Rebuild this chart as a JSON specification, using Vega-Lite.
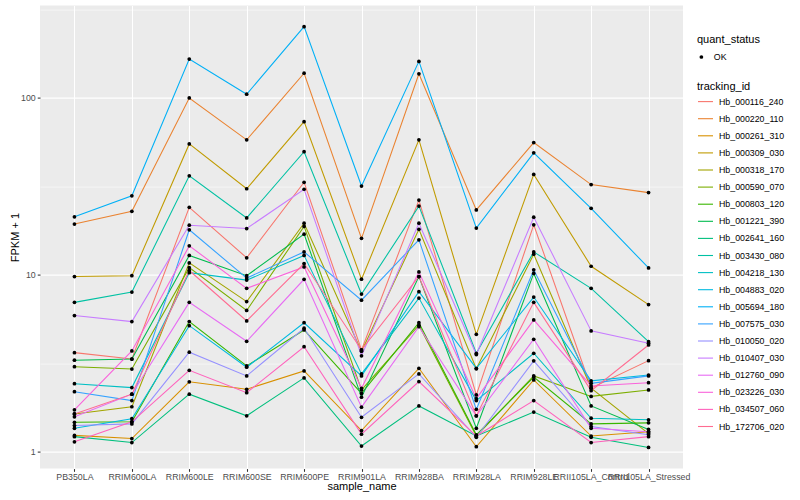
{
  "$schema": "https://vega.github.io/schema/vega-lite/v6.json",
  "width": 643,
  "height": 463,
  "autosize": {"type": "none"},
  "padding": {"left": 40, "top": 5.6, "right": 117, "bottom": 31.4},
  "background": "white",
  "config": {
    "font": "Liberation Sans",
    "view": {"fill": "#EBEBEB", "stroke": null},
    "axis": {
      "labelFont": "Liberation Sans",
      "titleFont": "Liberation Sans",
      "labelFontSize": 8.8,
      "labelColor": "#4D4D4D",
      "titleFontSize": 11,
      "titleFontWeight": "normal",
      "titleColor": "black",
      "domain": false,
      "tickColor": "#333333",
      "tickSize": 2.75,
      "tickWidth": 1.07,
      "gridColor": "white",
      "gridOpacity": 1
    },
    "legend": {
      "titleFont": "Liberation Sans",
      "labelFont": "Liberation Sans",
      "titleFontSize": 11,
      "titleFontWeight": "normal",
      "titleColor": "black",
      "labelFontSize": 8.8,
      "labelColor": "black"
    }
  },
  "data": {"values": [
    {"tracking_id":"Hb_000116_240","sample_name":"PB350LA","fpkm":3.64,"quant_status":"OK"},
    {"tracking_id":"Hb_000116_240","sample_name":"RRIM600LA","fpkm":3.35,"quant_status":"OK"},
    {"tracking_id":"Hb_000116_240","sample_name":"RRIM600LE","fpkm":24.1,"quant_status":"OK"},
    {"tracking_id":"Hb_000116_240","sample_name":"RRIM600SE","fpkm":12.5,"quant_status":"OK"},
    {"tracking_id":"Hb_000116_240","sample_name":"RRIM600PE","fpkm":33.4,"quant_status":"OK"},
    {"tracking_id":"Hb_000116_240","sample_name":"RRIM901LA","fpkm":3.77,"quant_status":"OK"},
    {"tracking_id":"Hb_000116_240","sample_name":"RRIM928BA","fpkm":26.5,"quant_status":"OK"},
    {"tracking_id":"Hb_000116_240","sample_name":"RRIM928LA","fpkm":2.1,"quant_status":"OK"},
    {"tracking_id":"Hb_000116_240","sample_name":"RRIM928LE","fpkm":19.2,"quant_status":"OK"},
    {"tracking_id":"Hb_000116_240","sample_name":"RRII105LA_Control","fpkm":2.3,"quant_status":"OK"},
    {"tracking_id":"Hb_000116_240","sample_name":"RRII105LA_Stressed","fpkm":3.28,"quant_status":"OK"},

    {"tracking_id":"Hb_000220_110","sample_name":"PB350LA","fpkm":19.4,"quant_status":"OK"},
    {"tracking_id":"Hb_000220_110","sample_name":"RRIM600LA","fpkm":22.9,"quant_status":"OK"},
    {"tracking_id":"Hb_000220_110","sample_name":"RRIM600LE","fpkm":100,"quant_status":"OK"},
    {"tracking_id":"Hb_000220_110","sample_name":"RRIM600SE","fpkm":58,"quant_status":"OK"},
    {"tracking_id":"Hb_000220_110","sample_name":"RRIM600PE","fpkm":138,"quant_status":"OK"},
    {"tracking_id":"Hb_000220_110","sample_name":"RRIM901LA","fpkm":16.1,"quant_status":"OK"},
    {"tracking_id":"Hb_000220_110","sample_name":"RRIM928BA","fpkm":137,"quant_status":"OK"},
    {"tracking_id":"Hb_000220_110","sample_name":"RRIM928LA","fpkm":23.3,"quant_status":"OK"},
    {"tracking_id":"Hb_000220_110","sample_name":"RRIM928LE","fpkm":56,"quant_status":"OK"},
    {"tracking_id":"Hb_000220_110","sample_name":"RRII105LA_Control","fpkm":32.4,"quant_status":"OK"},
    {"tracking_id":"Hb_000220_110","sample_name":"RRII105LA_Stressed","fpkm":29.2,"quant_status":"OK"},

    {"tracking_id":"Hb_000261_310","sample_name":"PB350LA","fpkm":1.24,"quant_status":"OK"},
    {"tracking_id":"Hb_000261_310","sample_name":"RRIM600LA","fpkm":1.19,"quant_status":"OK"},
    {"tracking_id":"Hb_000261_310","sample_name":"RRIM600LE","fpkm":2.49,"quant_status":"OK"},
    {"tracking_id":"Hb_000261_310","sample_name":"RRIM600SE","fpkm":2.26,"quant_status":"OK"},
    {"tracking_id":"Hb_000261_310","sample_name":"RRIM600PE","fpkm":2.87,"quant_status":"OK"},
    {"tracking_id":"Hb_000261_310","sample_name":"RRIM901LA","fpkm":1.32,"quant_status":"OK"},
    {"tracking_id":"Hb_000261_310","sample_name":"RRIM928BA","fpkm":2.97,"quant_status":"OK"},
    {"tracking_id":"Hb_000261_310","sample_name":"RRIM928LA","fpkm":1.07,"quant_status":"OK"},
    {"tracking_id":"Hb_000261_310","sample_name":"RRIM928LE","fpkm":2.55,"quant_status":"OK"},
    {"tracking_id":"Hb_000261_310","sample_name":"RRII105LA_Control","fpkm":1.23,"quant_status":"OK"},
    {"tracking_id":"Hb_000261_310","sample_name":"RRII105LA_Stressed","fpkm":1.3,"quant_status":"OK"},

    {"tracking_id":"Hb_000309_030","sample_name":"PB350LA","fpkm":9.8,"quant_status":"OK"},
    {"tracking_id":"Hb_000309_030","sample_name":"RRIM600LA","fpkm":9.9,"quant_status":"OK"},
    {"tracking_id":"Hb_000309_030","sample_name":"RRIM600LE","fpkm":55,"quant_status":"OK"},
    {"tracking_id":"Hb_000309_030","sample_name":"RRIM600SE","fpkm":30.7,"quant_status":"OK"},
    {"tracking_id":"Hb_000309_030","sample_name":"RRIM600PE","fpkm":73.5,"quant_status":"OK"},
    {"tracking_id":"Hb_000309_030","sample_name":"RRIM901LA","fpkm":9.46,"quant_status":"OK"},
    {"tracking_id":"Hb_000309_030","sample_name":"RRIM928BA","fpkm":58,"quant_status":"OK"},
    {"tracking_id":"Hb_000309_030","sample_name":"RRIM928LA","fpkm":4.62,"quant_status":"OK"},
    {"tracking_id":"Hb_000309_030","sample_name":"RRIM928LE","fpkm":37,"quant_status":"OK"},
    {"tracking_id":"Hb_000309_030","sample_name":"RRII105LA_Control","fpkm":11.2,"quant_status":"OK"},
    {"tracking_id":"Hb_000309_030","sample_name":"RRII105LA_Stressed","fpkm":6.8,"quant_status":"OK"},

    {"tracking_id":"Hb_000318_170","sample_name":"PB350LA","fpkm":1.64,"quant_status":"OK"},
    {"tracking_id":"Hb_000318_170","sample_name":"RRIM600LA","fpkm":1.8,"quant_status":"OK"},
    {"tracking_id":"Hb_000318_170","sample_name":"RRIM600LE","fpkm":11.7,"quant_status":"OK"},
    {"tracking_id":"Hb_000318_170","sample_name":"RRIM600SE","fpkm":7.07,"quant_status":"OK"},
    {"tracking_id":"Hb_000318_170","sample_name":"RRIM600PE","fpkm":19.6,"quant_status":"OK"},
    {"tracking_id":"Hb_000318_170","sample_name":"RRIM901LA","fpkm":3.7,"quant_status":"OK"},
    {"tracking_id":"Hb_000318_170","sample_name":"RRIM928BA","fpkm":18.1,"quant_status":"OK"},
    {"tracking_id":"Hb_000318_170","sample_name":"RRIM928LA","fpkm":2.95,"quant_status":"OK"},
    {"tracking_id":"Hb_000318_170","sample_name":"RRIM928LE","fpkm":13.1,"quant_status":"OK"},
    {"tracking_id":"Hb_000318_170","sample_name":"RRII105LA_Control","fpkm":2.29,"quant_status":"OK"},
    {"tracking_id":"Hb_000318_170","sample_name":"RRII105LA_Stressed","fpkm":1.27,"quant_status":"OK"},

    {"tracking_id":"Hb_000590_070","sample_name":"PB350LA","fpkm":3.03,"quant_status":"OK"},
    {"tracking_id":"Hb_000590_070","sample_name":"RRIM600LA","fpkm":2.94,"quant_status":"OK"},
    {"tracking_id":"Hb_000590_070","sample_name":"RRIM600LE","fpkm":11.0,"quant_status":"OK"},
    {"tracking_id":"Hb_000590_070","sample_name":"RRIM600SE","fpkm":6.3,"quant_status":"OK"},
    {"tracking_id":"Hb_000590_070","sample_name":"RRIM600PE","fpkm":18.8,"quant_status":"OK"},
    {"tracking_id":"Hb_000590_070","sample_name":"RRIM901LA","fpkm":2.24,"quant_status":"OK"},
    {"tracking_id":"Hb_000590_070","sample_name":"RRIM928BA","fpkm":5.2,"quant_status":"OK"},
    {"tracking_id":"Hb_000590_070","sample_name":"RRIM928LA","fpkm":1.23,"quant_status":"OK"},
    {"tracking_id":"Hb_000590_070","sample_name":"RRIM928LE","fpkm":2.69,"quant_status":"OK"},
    {"tracking_id":"Hb_000590_070","sample_name":"RRII105LA_Control","fpkm":2.06,"quant_status":"OK"},
    {"tracking_id":"Hb_000590_070","sample_name":"RRII105LA_Stressed","fpkm":2.24,"quant_status":"OK"},

    {"tracking_id":"Hb_000803_120","sample_name":"PB350LA","fpkm":1.47,"quant_status":"OK"},
    {"tracking_id":"Hb_000803_120","sample_name":"RRIM600LA","fpkm":1.48,"quant_status":"OK"},
    {"tracking_id":"Hb_000803_120","sample_name":"RRIM600LE","fpkm":5.45,"quant_status":"OK"},
    {"tracking_id":"Hb_000803_120","sample_name":"RRIM600SE","fpkm":3.06,"quant_status":"OK"},
    {"tracking_id":"Hb_000803_120","sample_name":"RRIM600PE","fpkm":4.89,"quant_status":"OK"},
    {"tracking_id":"Hb_000803_120","sample_name":"RRIM901LA","fpkm":2.14,"quant_status":"OK"},
    {"tracking_id":"Hb_000803_120","sample_name":"RRIM928BA","fpkm":5.37,"quant_status":"OK"},
    {"tracking_id":"Hb_000803_120","sample_name":"RRIM928LA","fpkm":1.25,"quant_status":"OK"},
    {"tracking_id":"Hb_000803_120","sample_name":"RRIM928LE","fpkm":2.65,"quant_status":"OK"},
    {"tracking_id":"Hb_000803_120","sample_name":"RRII105LA_Control","fpkm":1.44,"quant_status":"OK"},
    {"tracking_id":"Hb_000803_120","sample_name":"RRII105LA_Stressed","fpkm":1.46,"quant_status":"OK"},

    {"tracking_id":"Hb_001221_390","sample_name":"PB350LA","fpkm":3.3,"quant_status":"OK"},
    {"tracking_id":"Hb_001221_390","sample_name":"RRIM600LA","fpkm":3.35,"quant_status":"OK"},
    {"tracking_id":"Hb_001221_390","sample_name":"RRIM600LE","fpkm":12.9,"quant_status":"OK"},
    {"tracking_id":"Hb_001221_390","sample_name":"RRIM600SE","fpkm":9.9,"quant_status":"OK"},
    {"tracking_id":"Hb_001221_390","sample_name":"RRIM600PE","fpkm":17.0,"quant_status":"OK"},
    {"tracking_id":"Hb_001221_390","sample_name":"RRIM901LA","fpkm":2.04,"quant_status":"OK"},
    {"tracking_id":"Hb_001221_390","sample_name":"RRIM928BA","fpkm":9.8,"quant_status":"OK"},
    {"tracking_id":"Hb_001221_390","sample_name":"RRIM928LA","fpkm":1.36,"quant_status":"OK"},
    {"tracking_id":"Hb_001221_390","sample_name":"RRIM928LE","fpkm":10.2,"quant_status":"OK"},
    {"tracking_id":"Hb_001221_390","sample_name":"RRII105LA_Control","fpkm":1.82,"quant_status":"OK"},
    {"tracking_id":"Hb_001221_390","sample_name":"RRII105LA_Stressed","fpkm":1.34,"quant_status":"OK"},

    {"tracking_id":"Hb_002641_160","sample_name":"PB350LA","fpkm":1.22,"quant_status":"OK"},
    {"tracking_id":"Hb_002641_160","sample_name":"RRIM600LA","fpkm":1.13,"quant_status":"OK"},
    {"tracking_id":"Hb_002641_160","sample_name":"RRIM600LE","fpkm":2.12,"quant_status":"OK"},
    {"tracking_id":"Hb_002641_160","sample_name":"RRIM600SE","fpkm":1.6,"quant_status":"OK"},
    {"tracking_id":"Hb_002641_160","sample_name":"RRIM600PE","fpkm":2.62,"quant_status":"OK"},
    {"tracking_id":"Hb_002641_160","sample_name":"RRIM901LA","fpkm":1.08,"quant_status":"OK"},
    {"tracking_id":"Hb_002641_160","sample_name":"RRIM928BA","fpkm":1.82,"quant_status":"OK"},
    {"tracking_id":"Hb_002641_160","sample_name":"RRIM928LA","fpkm":1.23,"quant_status":"OK"},
    {"tracking_id":"Hb_002641_160","sample_name":"RRIM928LE","fpkm":1.68,"quant_status":"OK"},
    {"tracking_id":"Hb_002641_160","sample_name":"RRII105LA_Control","fpkm":1.21,"quant_status":"OK"},
    {"tracking_id":"Hb_002641_160","sample_name":"RRII105LA_Stressed","fpkm":1.06,"quant_status":"OK"},

    {"tracking_id":"Hb_003430_080","sample_name":"PB350LA","fpkm":7.0,"quant_status":"OK"},
    {"tracking_id":"Hb_003430_080","sample_name":"RRIM600LA","fpkm":8.0,"quant_status":"OK"},
    {"tracking_id":"Hb_003430_080","sample_name":"RRIM600LE","fpkm":36.3,"quant_status":"OK"},
    {"tracking_id":"Hb_003430_080","sample_name":"RRIM600SE","fpkm":21,"quant_status":"OK"},
    {"tracking_id":"Hb_003430_080","sample_name":"RRIM600PE","fpkm":49.7,"quant_status":"OK"},
    {"tracking_id":"Hb_003430_080","sample_name":"RRIM901LA","fpkm":7.8,"quant_status":"OK"},
    {"tracking_id":"Hb_003430_080","sample_name":"RRIM928BA","fpkm":24.5,"quant_status":"OK"},
    {"tracking_id":"Hb_003430_080","sample_name":"RRIM928LA","fpkm":3.61,"quant_status":"OK"},
    {"tracking_id":"Hb_003430_080","sample_name":"RRIM928LE","fpkm":13.5,"quant_status":"OK"},
    {"tracking_id":"Hb_003430_080","sample_name":"RRII105LA_Control","fpkm":8.4,"quant_status":"OK"},
    {"tracking_id":"Hb_003430_080","sample_name":"RRII105LA_Stressed","fpkm":4.2,"quant_status":"OK"},

    {"tracking_id":"Hb_004218_130","sample_name":"PB350LA","fpkm":2.43,"quant_status":"OK"},
    {"tracking_id":"Hb_004218_130","sample_name":"RRIM600LA","fpkm":2.31,"quant_status":"OK"},
    {"tracking_id":"Hb_004218_130","sample_name":"RRIM600LE","fpkm":10.3,"quant_status":"OK"},
    {"tracking_id":"Hb_004218_130","sample_name":"RRIM600SE","fpkm":9.35,"quant_status":"OK"},
    {"tracking_id":"Hb_004218_130","sample_name":"RRIM600PE","fpkm":12.9,"quant_status":"OK"},
    {"tracking_id":"Hb_004218_130","sample_name":"RRIM901LA","fpkm":2.76,"quant_status":"OK"},
    {"tracking_id":"Hb_004218_130","sample_name":"RRIM928BA","fpkm":7.4,"quant_status":"OK"},
    {"tracking_id":"Hb_004218_130","sample_name":"RRIM928LA","fpkm":1.95,"quant_status":"OK"},
    {"tracking_id":"Hb_004218_130","sample_name":"RRIM928LE","fpkm":3.61,"quant_status":"OK"},
    {"tracking_id":"Hb_004218_130","sample_name":"RRII105LA_Control","fpkm":1.55,"quant_status":"OK"},
    {"tracking_id":"Hb_004218_130","sample_name":"RRII105LA_Stressed","fpkm":1.52,"quant_status":"OK"},

    {"tracking_id":"Hb_004883_020","sample_name":"PB350LA","fpkm":1.36,"quant_status":"OK"},
    {"tracking_id":"Hb_004883_020","sample_name":"RRIM600LA","fpkm":1.54,"quant_status":"OK"},
    {"tracking_id":"Hb_004883_020","sample_name":"RRIM600LE","fpkm":5.17,"quant_status":"OK"},
    {"tracking_id":"Hb_004883_020","sample_name":"RRIM600SE","fpkm":3.01,"quant_status":"OK"},
    {"tracking_id":"Hb_004883_020","sample_name":"RRIM600PE","fpkm":5.37,"quant_status":"OK"},
    {"tracking_id":"Hb_004883_020","sample_name":"RRIM901LA","fpkm":2.69,"quant_status":"OK"},
    {"tracking_id":"Hb_004883_020","sample_name":"RRIM928BA","fpkm":8.04,"quant_status":"OK"},
    {"tracking_id":"Hb_004883_020","sample_name":"RRIM928LA","fpkm":2.97,"quant_status":"OK"},
    {"tracking_id":"Hb_004883_020","sample_name":"RRIM928LE","fpkm":7.5,"quant_status":"OK"},
    {"tracking_id":"Hb_004883_020","sample_name":"RRII105LA_Control","fpkm":2.52,"quant_status":"OK"},
    {"tracking_id":"Hb_004883_020","sample_name":"RRII105LA_Stressed","fpkm":2.72,"quant_status":"OK"},

    {"tracking_id":"Hb_005694_180","sample_name":"PB350LA","fpkm":21.3,"quant_status":"OK"},
    {"tracking_id":"Hb_005694_180","sample_name":"RRIM600LA","fpkm":28,"quant_status":"OK"},
    {"tracking_id":"Hb_005694_180","sample_name":"RRIM600LE","fpkm":166,"quant_status":"OK"},
    {"tracking_id":"Hb_005694_180","sample_name":"RRIM600SE","fpkm":105,"quant_status":"OK"},
    {"tracking_id":"Hb_005694_180","sample_name":"RRIM600PE","fpkm":253,"quant_status":"OK"},
    {"tracking_id":"Hb_005694_180","sample_name":"RRIM901LA","fpkm":31.8,"quant_status":"OK"},
    {"tracking_id":"Hb_005694_180","sample_name":"RRIM928BA","fpkm":161,"quant_status":"OK"},
    {"tracking_id":"Hb_005694_180","sample_name":"RRIM928LA","fpkm":18.4,"quant_status":"OK"},
    {"tracking_id":"Hb_005694_180","sample_name":"RRIM928LE","fpkm":49,"quant_status":"OK"},
    {"tracking_id":"Hb_005694_180","sample_name":"RRII105LA_Control","fpkm":23.8,"quant_status":"OK"},
    {"tracking_id":"Hb_005694_180","sample_name":"RRII105LA_Stressed","fpkm":10.95,"quant_status":"OK"},

    {"tracking_id":"Hb_007575_030","sample_name":"PB350LA","fpkm":2.19,"quant_status":"OK"},
    {"tracking_id":"Hb_007575_030","sample_name":"RRIM600LA","fpkm":1.95,"quant_status":"OK"},
    {"tracking_id":"Hb_007575_030","sample_name":"RRIM600LE","fpkm":18,"quant_status":"OK"},
    {"tracking_id":"Hb_007575_030","sample_name":"RRIM600SE","fpkm":9.6,"quant_status":"OK"},
    {"tracking_id":"Hb_007575_030","sample_name":"RRIM600PE","fpkm":13.5,"quant_status":"OK"},
    {"tracking_id":"Hb_007575_030","sample_name":"RRIM901LA","fpkm":7.2,"quant_status":"OK"},
    {"tracking_id":"Hb_007575_030","sample_name":"RRIM928BA","fpkm":15.8,"quant_status":"OK"},
    {"tracking_id":"Hb_007575_030","sample_name":"RRIM928LA","fpkm":1.74,"quant_status":"OK"},
    {"tracking_id":"Hb_007575_030","sample_name":"RRIM928LE","fpkm":10.7,"quant_status":"OK"},
    {"tracking_id":"Hb_007575_030","sample_name":"RRII105LA_Control","fpkm":2.44,"quant_status":"OK"},
    {"tracking_id":"Hb_007575_030","sample_name":"RRII105LA_Stressed","fpkm":2.69,"quant_status":"OK"},

    {"tracking_id":"Hb_010050_020","sample_name":"PB350LA","fpkm":1.41,"quant_status":"OK"},
    {"tracking_id":"Hb_010050_020","sample_name":"RRIM600LA","fpkm":1.44,"quant_status":"OK"},
    {"tracking_id":"Hb_010050_020","sample_name":"RRIM600LE","fpkm":3.66,"quant_status":"OK"},
    {"tracking_id":"Hb_010050_020","sample_name":"RRIM600SE","fpkm":2.69,"quant_status":"OK"},
    {"tracking_id":"Hb_010050_020","sample_name":"RRIM600PE","fpkm":5.0,"quant_status":"OK"},
    {"tracking_id":"Hb_010050_020","sample_name":"RRIM901LA","fpkm":1.57,"quant_status":"OK"},
    {"tracking_id":"Hb_010050_020","sample_name":"RRIM928BA","fpkm":2.76,"quant_status":"OK"},
    {"tracking_id":"Hb_010050_020","sample_name":"RRIM928LA","fpkm":1.21,"quant_status":"OK"},
    {"tracking_id":"Hb_010050_020","sample_name":"RRIM928LE","fpkm":3.27,"quant_status":"OK"},
    {"tracking_id":"Hb_010050_020","sample_name":"RRII105LA_Control","fpkm":1.39,"quant_status":"OK"},
    {"tracking_id":"Hb_010050_020","sample_name":"RRII105LA_Stressed","fpkm":1.25,"quant_status":"OK"},

    {"tracking_id":"Hb_010407_030","sample_name":"PB350LA","fpkm":5.9,"quant_status":"OK"},
    {"tracking_id":"Hb_010407_030","sample_name":"RRIM600LA","fpkm":5.45,"quant_status":"OK"},
    {"tracking_id":"Hb_010407_030","sample_name":"RRIM600LE","fpkm":19.1,"quant_status":"OK"},
    {"tracking_id":"Hb_010407_030","sample_name":"RRIM600SE","fpkm":18.3,"quant_status":"OK"},
    {"tracking_id":"Hb_010407_030","sample_name":"RRIM600PE","fpkm":30.5,"quant_status":"OK"},
    {"tracking_id":"Hb_010407_030","sample_name":"RRIM901LA","fpkm":3.49,"quant_status":"OK"},
    {"tracking_id":"Hb_010407_030","sample_name":"RRIM928BA","fpkm":19.6,"quant_status":"OK"},
    {"tracking_id":"Hb_010407_030","sample_name":"RRIM928LA","fpkm":3.55,"quant_status":"OK"},
    {"tracking_id":"Hb_010407_030","sample_name":"RRIM928LE","fpkm":21.2,"quant_status":"OK"},
    {"tracking_id":"Hb_010407_030","sample_name":"RRII105LA_Control","fpkm":4.83,"quant_status":"OK"},
    {"tracking_id":"Hb_010407_030","sample_name":"RRII105LA_Stressed","fpkm":4.11,"quant_status":"OK"},

    {"tracking_id":"Hb_012760_090","sample_name":"PB350LA","fpkm":1.58,"quant_status":"OK"},
    {"tracking_id":"Hb_012760_090","sample_name":"RRIM600LA","fpkm":2.12,"quant_status":"OK"},
    {"tracking_id":"Hb_012760_090","sample_name":"RRIM600LE","fpkm":7.0,"quant_status":"OK"},
    {"tracking_id":"Hb_012760_090","sample_name":"RRIM600SE","fpkm":4.22,"quant_status":"OK"},
    {"tracking_id":"Hb_012760_090","sample_name":"RRIM600PE","fpkm":9.45,"quant_status":"OK"},
    {"tracking_id":"Hb_012760_090","sample_name":"RRIM901LA","fpkm":1.79,"quant_status":"OK"},
    {"tracking_id":"Hb_012760_090","sample_name":"RRIM928BA","fpkm":5.1,"quant_status":"OK"},
    {"tracking_id":"Hb_012760_090","sample_name":"RRIM928LA","fpkm":1.6,"quant_status":"OK"},
    {"tracking_id":"Hb_012760_090","sample_name":"RRIM928LE","fpkm":4.33,"quant_status":"OK"},
    {"tracking_id":"Hb_012760_090","sample_name":"RRII105LA_Control","fpkm":1.36,"quant_status":"OK"},
    {"tracking_id":"Hb_012760_090","sample_name":"RRII105LA_Stressed","fpkm":1.3,"quant_status":"OK"},

    {"tracking_id":"Hb_023226_030","sample_name":"PB350LA","fpkm":1.73,"quant_status":"OK"},
    {"tracking_id":"Hb_023226_030","sample_name":"RRIM600LA","fpkm":3.72,"quant_status":"OK"},
    {"tracking_id":"Hb_023226_030","sample_name":"RRIM600LE","fpkm":14.6,"quant_status":"OK"},
    {"tracking_id":"Hb_023226_030","sample_name":"RRIM600SE","fpkm":8.4,"quant_status":"OK"},
    {"tracking_id":"Hb_023226_030","sample_name":"RRIM600PE","fpkm":11.1,"quant_status":"OK"},
    {"tracking_id":"Hb_023226_030","sample_name":"RRIM901LA","fpkm":2.29,"quant_status":"OK"},
    {"tracking_id":"Hb_023226_030","sample_name":"RRIM928BA","fpkm":10.4,"quant_status":"OK"},
    {"tracking_id":"Hb_023226_030","sample_name":"RRIM928LA","fpkm":2.0,"quant_status":"OK"},
    {"tracking_id":"Hb_023226_030","sample_name":"RRIM928LE","fpkm":5.57,"quant_status":"OK"},
    {"tracking_id":"Hb_023226_030","sample_name":"RRII105LA_Control","fpkm":2.36,"quant_status":"OK"},
    {"tracking_id":"Hb_023226_030","sample_name":"RRII105LA_Stressed","fpkm":2.46,"quant_status":"OK"},

    {"tracking_id":"Hb_034507_060","sample_name":"PB350LA","fpkm":1.14,"quant_status":"OK"},
    {"tracking_id":"Hb_034507_060","sample_name":"RRIM600LA","fpkm":1.48,"quant_status":"OK"},
    {"tracking_id":"Hb_034507_060","sample_name":"RRIM600LE","fpkm":2.89,"quant_status":"OK"},
    {"tracking_id":"Hb_034507_060","sample_name":"RRIM600SE","fpkm":2.16,"quant_status":"OK"},
    {"tracking_id":"Hb_034507_060","sample_name":"RRIM600PE","fpkm":3.93,"quant_status":"OK"},
    {"tracking_id":"Hb_034507_060","sample_name":"RRIM901LA","fpkm":1.26,"quant_status":"OK"},
    {"tracking_id":"Hb_034507_060","sample_name":"RRIM928BA","fpkm":2.5,"quant_status":"OK"},
    {"tracking_id":"Hb_034507_060","sample_name":"RRIM928LA","fpkm":1.23,"quant_status":"OK"},
    {"tracking_id":"Hb_034507_060","sample_name":"RRIM928LE","fpkm":1.95,"quant_status":"OK"},
    {"tracking_id":"Hb_034507_060","sample_name":"RRII105LA_Control","fpkm":1.13,"quant_status":"OK"},
    {"tracking_id":"Hb_034507_060","sample_name":"RRII105LA_Stressed","fpkm":1.22,"quant_status":"OK"},

    {"tracking_id":"Hb_172706_020","sample_name":"PB350LA","fpkm":1.64,"quant_status":"OK"},
    {"tracking_id":"Hb_172706_020","sample_name":"RRIM600LA","fpkm":2.12,"quant_status":"OK"},
    {"tracking_id":"Hb_172706_020","sample_name":"RRIM600LE","fpkm":10.6,"quant_status":"OK"},
    {"tracking_id":"Hb_172706_020","sample_name":"RRIM600SE","fpkm":5.5,"quant_status":"OK"},
    {"tracking_id":"Hb_172706_020","sample_name":"RRIM600PE","fpkm":11.6,"quant_status":"OK"},
    {"tracking_id":"Hb_172706_020","sample_name":"RRIM901LA","fpkm":3.77,"quant_status":"OK"},
    {"tracking_id":"Hb_172706_020","sample_name":"RRIM928BA","fpkm":9.8,"quant_status":"OK"},
    {"tracking_id":"Hb_172706_020","sample_name":"RRIM928LA","fpkm":1.6,"quant_status":"OK"},
    {"tracking_id":"Hb_172706_020","sample_name":"RRIM928LE","fpkm":7.0,"quant_status":"OK"},
    {"tracking_id":"Hb_172706_020","sample_name":"RRII105LA_Control","fpkm":2.22,"quant_status":"OK"},
    {"tracking_id":"Hb_172706_020","sample_name":"RRII105LA_Stressed","fpkm":4.02,"quant_status":"OK"}
  ]},
  "encoding": {
    "x": {
      "field": "sample_name",
      "type": "nominal",
      "sort": ["PB350LA","RRIM600LA","RRIM600LE","RRIM600SE","RRIM600PE","RRIM901LA","RRIM928BA","RRIM928LA","RRIM928LE","RRII105LA_Control","RRII105LA_Stressed"],
      "scale": {"type": "point", "padding": 0.6},
      "axis": {
        "title": "sample_name",
        "labelAngle": 0,
        "labelOverlap": false,
        "labelBound": false,
        "labelPadding": 0.8,
        "titlePadding": 0,
        "grid": true,
        "gridWidth": 1.07
      }
    },
    "y": {
      "field": "fpkm",
      "type": "quantitative",
      "scale": {"type": "log", "domain": [0.805, 332.7], "nice": false, "zero": false},
      "axis": {
        "title": "FPKM + 1",
        "values": [1, 3.1623, 10, 31.623, 100, 316.23],
        "labelExpr": "(datum.value == 1 || datum.value == 10 || datum.value == 100) ? format(datum.value, 'd') : ''",
        "grid": true,
        "gridWidth": {"condition": {"test": "datum.value == 1 || datum.value == 10 || datum.value == 100", "value": 1.07}, "value": 0.53},
        "tickOpacity": {"condition": {"test": "datum.value == 1 || datum.value == 10 || datum.value == 100", "value": 1}, "value": 0},
        "labelPadding": 2,
        "titlePadding": 0
      }
    }
  },
  "layer": [
    {
      "mark": {"type": "line", "strokeWidth": 1.07},
      "encoding": {
        "color": {
          "field": "tracking_id",
          "type": "nominal",
          "scale": {"range": ["#F8766D","#EA8331","#D89000","#C09B00","#A3A500","#7CAE00","#39B600","#00BB4E","#00BF7D","#00C1A3","#00BFC4","#00BAE0","#00B0F6","#35A2FF","#9590FF","#C77CFF","#E76BF3","#FA62DB","#FF62BC","#FF6C91"]},
          "legend": {
            "title": "tracking_id",
            "orient": "none",
            "legendX": 657,
            "legendY": 75,
            "symbolType": "stroke",
            "symbolSize": 225,
            "symbolStrokeWidth": 1.1,
            "rowPadding": 3.1,
            "titlePadding": 1.5,
            "labelOffset": 5
          }
        }
      }
    },
    {
      "mark": {"type": "point", "filled": true, "color": "black", "size": 14, "opacity": 1},
      "encoding": {
        "shape": {
          "field": "quant_status",
          "type": "nominal",
          "scale": {"range": ["circle"]},
          "legend": {
            "title": "quant_status",
            "orient": "none",
            "legendX": 657,
            "legendY": 28,
            "symbolFillColor": "black",
            "symbolStrokeColor": "black",
            "symbolSize": 14,
            "titlePadding": 8,
            "labelOffset": 8
          }
        }
      }
    }
  ]
}
